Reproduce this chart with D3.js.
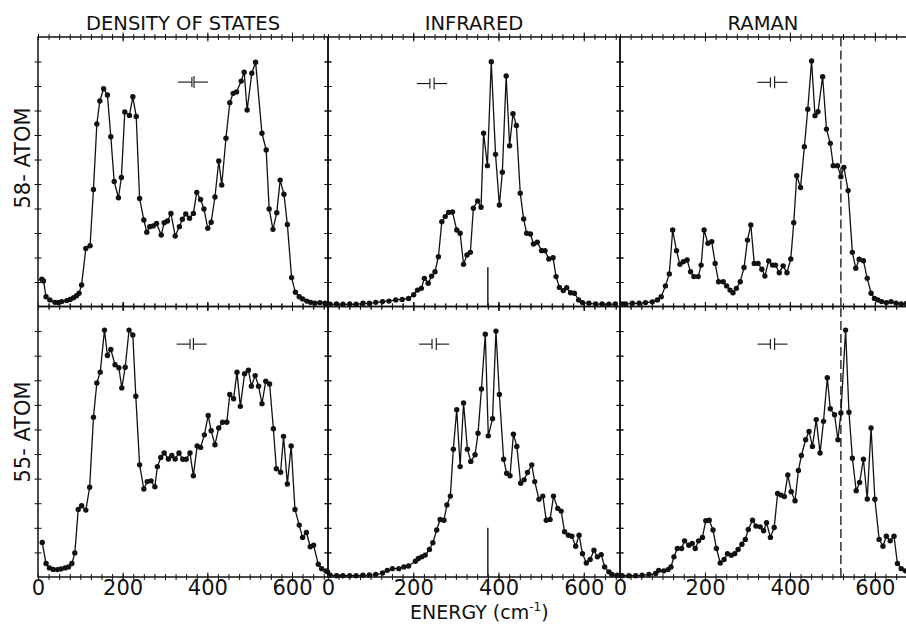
<!DOCTYPE html>
<html><head><meta charset="utf-8">
<script src="https://cdn.jsdelivr.net/npm/d3@7"></script>
<style>body{margin:0;background:#fff}svg{display:block}</style>
</head><body>
<script>
// ---------------- data ----------------
const columnTitles = ["DENSITY OF STATES", "INFRARED", "RAMAN"];
const rowLabels = ["58- ATOM", "55- ATOM"];
const energyTickLabels = [0, 200, 400, 600];
const energyDomain = [0, 685];
const intensityDomain = [0, 11];

// [energy (cm^-1), intensity (tick units)]
const dos58 = [[9,1.11],[13,1.04],[19,0.40],[28,0.27],[40,0.17],[48,0.16],[56,0.20],[68,0.24],[76,0.29],[84,0.36],[91,0.44],[97,0.54],[103,0.88],[113,2.37],[123,2.48],[131,4.78],[139,7.45],[146,8.39],[155,8.89],[164,8.63],[172,6.93],[180,5.10],[190,4.44],[197,5.27],[205,7.94],[216,7.80],[224,8.56],[232,7.76],[240,4.41],[250,3.53],[257,3.03],[264,3.26],[272,3.29],[280,3.39],[291,2.92],[298,3.42],[306,3.49],[314,3.80],[324,2.88],[334,3.26],[341,3.56],[349,3.78],[358,3.60],[367,3.80],[375,4.66],[384,4.37],[392,3.98],[401,3.19],[409,3.44],[418,4.47],[427,5.94],[434,4.96],[444,6.87],[453,8.32],[461,8.70],[469,8.76],[480,9.20],[487,9.56],[494,8.02],[505,9.52],[514,9.97],[529,7.07],[539,6.39],[546,3.98],[555,3.15],[564,3.83],[572,5.16],[581,4.58],[589,3.35],[599,1.18],[608,0.58],[617,0.40],[625,0.31],[635,0.22],[644,0.17],[654,0.13],[666,0.16],[678,0.13],[684,0.10]];
const ir58 = [[5,0.09],[20,0.10],[35,0.09],[51,0.10],[66,0.09],[82,0.13],[97,0.13],[112,0.17],[128,0.20],[143,0.22],[159,0.27],[174,0.29],[189,0.33],[201,0.48],[210,0.67],[219,0.74],[226,1.15],[235,0.95],[243,1.24],[251,1.42],[259,2.03],[267,3.46],[275,3.67],[283,3.84],[292,3.86],[302,3.12],[310,2.99],[318,1.72],[326,2.10],[334,2.21],[341,4.01],[351,4.31],[359,4.05],[365,7.07],[374,5.75],[383,9.99],[393,6.21],[402,4.14],[409,5.48],[418,9.41],[426,6.56],[434,7.87],[442,7.39],[451,4.62],[459,3.57],[466,2.99],[475,2.96],[482,2.55],[491,2.62],[501,2.28],[509,2.28],[518,1.94],[528,1.99],[535,1.22],[543,0.78],[552,0.65],[560,0.77],[569,0.56],[578,0.54],[588,0.27],[597,0.16],[612,0.13],[628,0.10],[643,0.10],[659,0.09],[674,0.10]];
const raman58 = [[5,0.10],[13,0.10],[29,0.13],[45,0.13],[60,0.16],[76,0.19],[88,0.27],[97,0.40],[107,0.84],[116,1.33],[124,3.12],[133,2.28],[141,1.72],[149,1.83],[158,1.90],[166,1.42],[174,1.22],[184,1.22],[191,1.69],[198,3.12],[207,2.58],[216,2.65],[224,1.76],[232,1.01],[243,1.01],[251,0.84],[259,0.67],[266,0.56],[274,0.74],[283,1.01],[292,1.59],[300,2.71],[308,3.33],[316,1.76],[325,1.76],[334,1.52],[341,1.24],[350,1.86],[359,1.69],[366,1.69],[375,1.38],[384,1.66],[393,1.38],[402,1.94],[409,3.42],[416,5.34],[425,4.86],[434,6.52],[442,8.05],[451,10.02],[459,7.79],[466,7.95],[477,9.38],[486,7.24],[495,6.66],[502,5.75],[512,5.75],[520,5.30],[527,5.68],[537,4.73],[547,2.21],[555,1.56],[563,1.93],[573,1.87],[582,1.15],[591,0.54],[599,0.33],[607,0.27],[616,0.20],[627,0.16],[638,0.20],[650,0.13],[662,0.10],[674,0.12]];
const dos55 = [[10,1.40],[19,0.55],[27,0.37],[36,0.31],[46,0.30],[54,0.33],[64,0.37],[72,0.41],[80,0.55],[87,0.98],[95,2.75],[103,2.90],[113,2.72],[122,3.65],[131,6.50],[139,7.89],[147,8.33],[157,10.04],[164,9.01],[172,9.25],[182,8.63],[191,8.51],[198,7.69],[206,8.53],[215,10.04],[224,9.84],[231,7.35],[240,4.56],[250,3.58],[258,3.88],[267,3.91],[276,3.67],[282,4.49],[290,4.86],[298,5.04],[308,4.80],[316,4.94],[324,4.80],[333,5.04],[342,4.79],[350,4.79],[359,5.04],[367,4.12],[376,5.33],[384,5.27],[393,5.78],[402,6.57],[409,5.95],[418,5.38],[427,6.06],[436,6.29],[446,6.29],[453,7.42],[462,7.25],[470,8.33],[478,6.94],[488,8.27],[497,8.41],[504,7.76],[513,8.19],[521,7.76],[529,7.05],[538,7.96],[547,7.85],[556,6.03],[563,4.40],[573,4.26],[580,5.72],[589,3.78],[598,5.33],[607,2.75],[617,2.11],[625,1.61],[634,1.81],[643,1.23],[651,1.29],[662,0.52],[670,0.34],[680,0.25],[684,0.21]];
const ir55 = [[5,0.07],[20,0.05],[35,0.05],[51,0.05],[66,0.05],[82,0.07],[97,0.08],[112,0.10],[128,0.16],[139,0.27],[151,0.34],[166,0.34],[178,0.41],[189,0.45],[205,0.64],[212,0.75],[220,0.82],[228,0.89],[238,1.12],[246,1.39],[255,1.91],[263,2.34],[272,2.31],[279,2.93],[287,3.29],[294,5.20],[302,6.80],[310,4.49],[318,7.08],[327,5.20],[335,4.70],[345,4.97],[352,5.85],[360,7.65],[369,9.87],[376,5.74],[386,6.44],[394,10.00],[402,7.42],[412,4.79],[419,4.22],[427,4.12],[435,5.81],[443,5.31],[452,3.81],[460,3.95],[468,4.25],[478,4.56],[485,3.88],[495,3.16],[504,3.29],[512,2.31],[521,2.34],[529,3.29],[539,2.79],[547,2.68],[555,1.84],[564,1.70],[572,1.66],[581,1.25],[589,1.70],[597,0.95],[606,0.57],[615,0.71],[624,1.09],[632,0.82],[641,0.91],[649,0.41],[659,0.21],[666,0.10],[678,0.07]];
const raman55 = [[5,0.05],[21,0.05],[37,0.05],[52,0.07],[68,0.10],[84,0.14],[91,0.27],[103,0.25],[113,0.30],[120,0.41],[127,0.82],[135,1.16],[145,1.16],[152,1.47],[162,1.29],[170,1.36],[177,1.16],[185,1.47],[194,1.61],[202,2.29],[210,2.31],[219,1.91],[227,1.16],[236,0.57],[245,0.71],[253,0.95],[262,0.88],[270,0.95],[278,1.12],[287,1.33],[295,1.53],[302,1.93],[312,2.31],[320,2.07],[330,2.04],[338,1.88],[345,2.21],[354,1.61],[363,2.01],[371,3.40],[379,3.33],[387,3.27],[395,4.15],[403,3.47],[412,3.10],[420,4.33],[427,4.94],[437,5.58],[445,5.92],[453,5.31],[462,6.40],[471,5.04],[479,6.33],[488,8.10],[495,6.84],[505,6.60],[513,5.58],[520,6.67],[531,10.04],[539,6.70],[547,4.83],[556,3.51],[564,3.84],[573,4.79],[582,3.17],[591,6.06],[600,3.16],[610,1.53],[619,1.25],[627,1.66],[636,1.47],[645,1.66],[653,0.55],[662,0.34],[672,0.25]];

// instrument resolution marks: [energy, intensity, width (cm^-1)]
const resolution58 = [[366, 9.16, 5], [244, 9.1, 10], [359, 9.15, 10]];
const resolution55 = [[363, 9.47, 8], [249, 9.47, 10], [359, 9.47, 10]];
const irMarkerEnergy = 375;
const irMarkerHeight = [1.6, 2.0];
const ramanLineEnergy = 520;

// ---------------- layout ----------------
const W = 906, H = 626;
const colX = [38, 328, 620, 911];
const rowY = [37, 306.5, 577];
const FONT = "'DejaVu Sans', 'Liberation Sans', sans-serif";

const svg = d3.select("body").append("svg").attr("width", W).attr("height", H);

const series = [[dos58, ir58, raman58], [dos55, ir55, raman55]];
const resol = [resolution58, resolution55];

for (let r = 0; r < 2; r++) {
  for (let c = 0; c < 3; c++) {
    const x = d3.scaleLinear().domain(energyDomain).range([colX[c], colX[c + 1]]);
    const y = d3.scaleLinear().domain(intensityDomain).range([rowY[r + 1], rowY[r]]);
    const g = svg.append("g");
    const minorT = d3.range(0, 685, 25);
    const majorT = [200, 400, 600];
    const yT = d3.range(1, 11);

    const addAxis = (axisFn, scale, vals, size, tx, ty) => {
      const a = g.append("g").attr("transform", `translate(${tx},${ty})`)
        .call(axisFn(scale).tickValues(vals).tickSize(size).tickFormat(""));
      a.select(".domain").remove();
      a.selectAll("line").attr("stroke", "#111").attr("stroke-width", 1);
    };
    addAxis(d3.axisBottom, x, minorT, 6, 0, rowY[r + 1] - 3);
    addAxis(d3.axisBottom, x, majorT, 9, 0, rowY[r + 1] - 4.5);
    addAxis(d3.axisBottom, x, minorT, 6, 0, rowY[r] - 3);
    addAxis(d3.axisBottom, x, majorT, 9, 0, rowY[r] - 4.5);
    addAxis(d3.axisRight, y, yT, 7, colX[c] - 3.5, 0);
    addAxis(d3.axisRight, y, yT, 7, colX[c + 1] - 3.5, 0);

    g.append("rect").attr("x", colX[c]).attr("y", rowY[r])
      .attr("width", colX[c + 1] - colX[c]).attr("height", rowY[r + 1] - rowY[r])
      .attr("fill", "none").attr("stroke", "#111").attr("stroke-width", 1.5);

    if (c === 1) {
      g.append("line").attr("x1", x(irMarkerEnergy)).attr("x2", x(irMarkerEnergy))
        .attr("y1", y(0)).attr("y2", y(irMarkerHeight[r]))
        .attr("stroke", "#111").attr("stroke-width", 1.4);
    }
    if (c === 2) {
      g.append("line").attr("x1", x(ramanLineEnergy)).attr("x2", x(ramanLineEnergy))
        .attr("y1", y(0)).attr("y2", y(11))
        .attr("stroke", "#111").attr("stroke-width", 1.3).attr("stroke-dasharray", "9,4");
    }

    const [re, rv, rw] = resol[r][c];
    const cx = x(re), cy = y(rv);
    const half = (x(rw) - x(0)) / 2;
    const rg = g.append("g").attr("stroke", "#111").attr("stroke-width", 1.1);
    rg.append("line").attr("x1", cx - 15).attr("x2", cx - half).attr("y1", cy).attr("y2", cy);
    rg.append("line").attr("x1", cx + half).attr("x2", cx + 15).attr("y1", cy).attr("y2", cy);
    rg.append("line").attr("x1", cx - half).attr("x2", cx - half).attr("y1", cy - 5).attr("y2", cy + 5);
    rg.append("line").attr("x1", cx + half).attr("x2", cx + half).attr("y1", cy - 6).attr("y2", cy + 6);

    const data = series[r][c];
    const line = d3.line().x(d => x(d[0])).y(d => y(d[1]));
    g.append("path").datum(data).attr("d", line)
      .attr("fill", "none").attr("stroke", "#111").attr("stroke-width", 1.3);
    g.selectAll("circle.pt").data(data).enter().append("circle")
      .attr("cx", d => x(d[0])).attr("cy", d => y(d[1])).attr("r", 2.7)
      .attr("fill", "#111");

    if (r === 1) {
      const la = g.append("g").attr("transform", `translate(0,${rowY[2] + 3})`)
        .call(d3.axisBottom(x).tickValues(energyTickLabels).tickSize(0).tickPadding(0));
      la.select(".domain").remove();
      la.selectAll("text").attr("font-family", FONT).attr("font-size", 21)
        .attr("fill", "#111").attr("dy", "0.71em");
    }
    if (r === 0) {
      svg.append("text").attr("x", (colX[c] + Math.min(colX[c + 1], 906)) / 2)
        .attr("y", 30).attr("text-anchor", "middle")
        .attr("font-family", FONT).attr("font-size", 19.5).attr("fill", "#111")
        .text(columnTitles[c]);
    }
  }
}

const rowLabelY = [158, 432];
rowLabels.forEach((t, i) => {
  svg.append("text").attr("transform", `translate(30,${rowLabelY[i]}) rotate(-90)`)
    .attr("text-anchor", "middle").attr("font-family", FONT).attr("font-size", 21)
    .attr("fill", "#111").text(t);
});

const xt = svg.append("text").attr("x", 410).attr("y", 619)
  .attr("font-family", FONT).attr("font-size", 19).attr("fill", "#111");
xt.append("tspan").text("ENERGY (cm");
xt.append("tspan").attr("font-size", 12).attr("dy", -8).text("-1");
xt.append("tspan").attr("dy", 8).text(")");
</script>
</body></html>
